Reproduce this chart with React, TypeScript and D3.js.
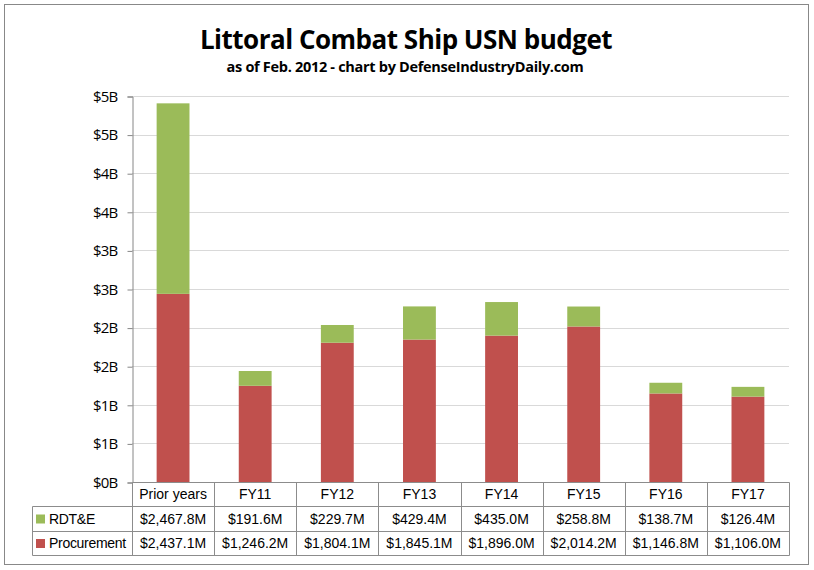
import React, { useRef, useEffect } from 'react';
import * as d3 from 'd3';

// chart data ($M)
const categories = ['Prior years', 'FY11', 'FY12', 'FY13', 'FY14', 'FY15', 'FY16', 'FY17'];
const procurement = [2437.1, 1246.2, 1804.1, 1845.1, 1896.0, 2014.2, 1146.8, 1106.0];
const rdte = [2467.8, 191.6, 229.7, 429.4, 435.0, 258.8, 138.7, 126.4];
const yTicks = [0, 500, 1000, 1500, 2000, 2500, 3000, 3500, 4000, 4500, 5000];
const yTickLabels = ['$0B', '$1B', '$1B', '$2B', '$2B', '$3B', '$3B', '$4B', '$4B', '$5B', '$5B'];

const RED = '#C0504D';
const GREEN = '#9BBB59';
const TABLE_LINE = '#8c8c8c';

const fmtM = (v: number) => '$' + d3.format(',.1f')(v) + 'M';

export default function App() {
  const svgRef = useRef<SVGSVGElement>(null);
  const width = 814;
  const height = 570;

  useEffect(() => {
    if (!svgRef.current) return;
    const svg = d3.select(svgRef.current);
    svg.selectAll('*').remove();

    const left = 132;
    const right = 789;
    const top = 96;
    const bottom = 482;

    // outer border
    svg.append('rect')
      .attr('x', 4.5).attr('y', 4.5)
      .attr('width', 804).attr('height', 560)
      .attr('fill', 'white')
      .attr('stroke', '#888888')
      .attr('stroke-width', 1);

    // titles
    svg.append('text')
      .attr('x', 406).attr('y', 49)
      .attr('text-anchor', 'middle')
      .attr('font-family', '"Open Sans", sans-serif')
      .attr('font-weight', 'bold')
      .attr('font-size', '26px')
      .attr('letter-spacing', '-0.5px')
      .text('Littoral Combat Ship USN budget');

    svg.append('text')
      .attr('x', 405).attr('y', 72)
      .attr('text-anchor', 'middle')
      .attr('font-family', '"Open Sans", sans-serif')
      .attr('font-weight', 'bold')
      .attr('font-size', '14.5px')
      .attr('letter-spacing', '-0.3px')
      .text('as of Feb. 2012 - chart by DefenseIndustryDaily.com');

    const y = d3.scaleLinear().domain([0, 5000]).range([bottom, top]);
    const x = d3.scaleBand<string>()
      .domain(categories)
      .range([left, right])
      .paddingInner(0.6)
      .paddingOuter(0.3);
    const cols = d3.scaleBand<string>().domain(categories).range([left, right]).padding(0);

    // gridlines
    svg.append('g')
      .selectAll('line')
      .data(yTicks.slice(1))
      .enter()
      .append('line')
      .attr('x1', left).attr('x2', right)
      .attr('y1', d => Math.round(y(d)) + 0.5)
      .attr('y2', d => Math.round(y(d)) + 0.5)
      .attr('stroke', '#d9d9d9')
      .attr('stroke-width', 1);

    // y axis
    const yAxis = svg.append('g')
      .attr('transform', `translate(${left + 0.5},0.5)`)
      .call(d3.axisLeft(y)
        .tickValues(yTicks)
        .tickSize(5)
        .tickPadding(10)
        .tickFormat((d, i) => yTickLabels[i]));
    yAxis.select('.domain').attr('stroke', '#868686');
    yAxis.selectAll('.tick line').attr('stroke', '#868686');
    yAxis.selectAll('.tick text')
      .attr('fill', '#000')
      .attr('font-family', '"Open Sans", sans-serif')
      .attr('font-size', '15px')
      .attr('letter-spacing', '-0.8px');

    // stacked bars
    const bars = svg.append('g');
    categories.forEach((c, i) => {
      bars.append('rect')
        .attr('x', x(c)!)
        .attr('width', x.bandwidth())
        .attr('y', y(procurement[i]))
        .attr('height', y(0) - y(procurement[i]))
        .attr('fill', RED);
      bars.append('rect')
        .attr('x', x(c)!)
        .attr('width', x.bandwidth())
        .attr('y', y(procurement[i] + rdte[i]))
        .attr('height', y(procurement[i]) - y(procurement[i] + rdte[i]))
        .attr('fill', GREEN);
    });

    // data table
    const rowTop = [482.5, 506.5, 531.5];
    const rowBottom = 555.5;
    const legendLeft = 32.5;
    const table = svg.append('g')
      .attr('font-family', '"Liberation Sans", Arial, sans-serif')
      .attr('font-size', '14px')
      .attr('fill', '#000');

    // horizontal lines
    [rowTop[1], rowTop[2], rowBottom].forEach(yy => {
      table.append('line')
        .attr('x1', legendLeft).attr('x2', right + 0.5)
        .attr('y1', yy).attr('y2', yy)
        .attr('stroke', TABLE_LINE);
    });
    table.append('line')
      .attr('x1', left + 0.5).attr('x2', right + 0.5)
      .attr('y1', rowTop[0]).attr('y2', rowTop[0])
      .attr('stroke', TABLE_LINE);
    // vertical lines
    table.append('line')
      .attr('x1', legendLeft).attr('x2', legendLeft)
      .attr('y1', rowTop[1]).attr('y2', rowBottom)
      .attr('stroke', TABLE_LINE);
    categories.forEach(c => {
      const xx = Math.round(cols(c)!) + 0.5;
      table.append('line')
        .attr('x1', xx).attr('x2', xx)
        .attr('y1', rowTop[0]).attr('y2', rowBottom)
        .attr('stroke', TABLE_LINE);
    });
    table.append('line')
      .attr('x1', right + 0.5).attr('x2', right + 0.5)
      .attr('y1', rowTop[0]).attr('y2', rowBottom)
      .attr('stroke', TABLE_LINE);

    const rowMid = (r: number) => ((r < 2 ? rowTop[r + 1] : rowBottom) + rowTop[r]) / 2;

    // header
    categories.forEach(c => {
      table.append('text')
        .attr('x', cols(c)! + cols.bandwidth() / 2)
        .attr('y', rowMid(0))
        .attr('dy', '0.35em')
        .attr('text-anchor', 'middle')
        .text(c);
    });

    const series = [
      { name: 'RDT&E', color: GREEN, values: rdte },
      { name: 'Procurement', color: RED, values: procurement },
    ];
    series.forEach((s, si) => {
      const ym = rowMid(si + 1);
      table.append('rect')
        .attr('x', 36).attr('y', ym - 4.5)
        .attr('width', 9).attr('height', 9)
        .attr('fill', s.color);
      table.append('text')
        .attr('x', 49).attr('y', ym)
        .attr('dy', '0.35em')
        .attr('letter-spacing', '-0.3px')
        .text(s.name);
      s.values.forEach((v, i) => {
        const c = categories[i];
        table.append('text')
          .attr('x', cols(c)! + cols.bandwidth() / 2)
          .attr('y', ym)
          .attr('dy', '0.35em')
          .attr('text-anchor', 'middle')
          .text(fmtM(v));
      });
    });
  }, []);

  return (
    <div style={{ position: 'absolute', left: 0, top: 0, width, height }}>
      <svg ref={svgRef} width={width} height={height} style={{ display: 'block' }} />
    </div>
  );
}
